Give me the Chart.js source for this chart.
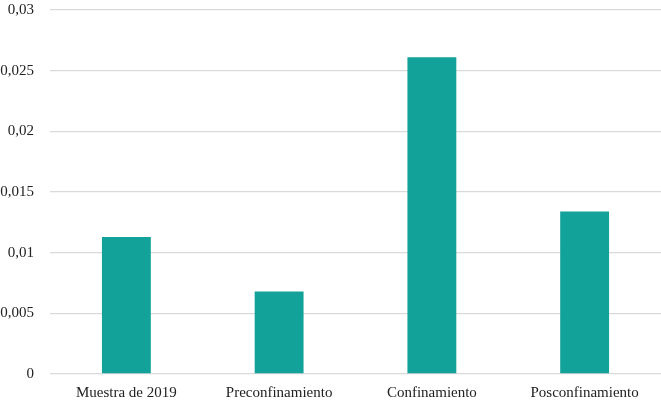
<!DOCTYPE html>
<html>
<head>
<meta charset="utf-8">
<script src="https://cdn.jsdelivr.net/npm/chart.js@4/dist/chart.umd.min.js"></script>
<style>
  html, body { margin: 0; padding: 0; background: #fff; }
  #wrap { width: 661px; height: 407px; }
</style>
</head>
<body>
<div id="wrap"><canvas id="grafico"></canvas></div>
<script>
// Datos
const categorias = ['Muestra de 2019', 'Preconfinamiento', 'Confinamiento', 'Posconfinamiento'];
const valores = [0.0113, 0.0068, 0.0261, 0.0134];
const valoresEje = [0, 0.005, 0.01, 0.015, 0.02, 0.025, 0.03];
const etiquetasEje = ['0', '0,005', '0,01', '0,015', '0,02', '0,025', '0,03'];

const fuente = { family: '"Liberation Serif", "DejaVu Serif", serif', size: 15 };

new Chart(document.getElementById('grafico').getContext('2d'), {
    type: 'bar',
    data: {
        labels: categorias,
        datasets: [{
            data: valores,
            backgroundColor: '#13a29a',
            borderWidth: 0,
            categoryPercentage: 1,
            barPercentage: 0.32
        }]
    },
    options: {
        responsive: true,
        maintainAspectRatio: false,
        animation: false,
        layout: { padding: { top: 10, right: 0, left: 0, bottom: 0 } },
        plugins: {
            legend: { display: false },
            tooltip: { enabled: false }
        },
        scales: {
            x: {
                grid: { display: false },
                border: { display: false },
                ticks: { color: '#222', font: fuente, padding: 2, maxRotation: 0 },
                afterFit: s => { s.height = 33; s.paddingLeft = 0; s.paddingRight = 0; }
            },
            y: {
                min: 0,
                max: 0.03,
                afterBuildTicks: s => { s.ticks = valoresEje.map(v => ({ value: v })); },
                grid: { color: '#d9d9d9', lineWidth: 1.3, drawTicks: false },
                border: { display: false },
                ticks: {
                    color: '#222',
                    font: fuente,
                    padding: 16,
                    callback: (v, i) => etiquetasEje[i]
                },
                afterFit: s => { s.width = 50; s.paddingTop = 0; s.paddingBottom = 0; }
            }
        }
    }
});
</script>
</body>
</html>
